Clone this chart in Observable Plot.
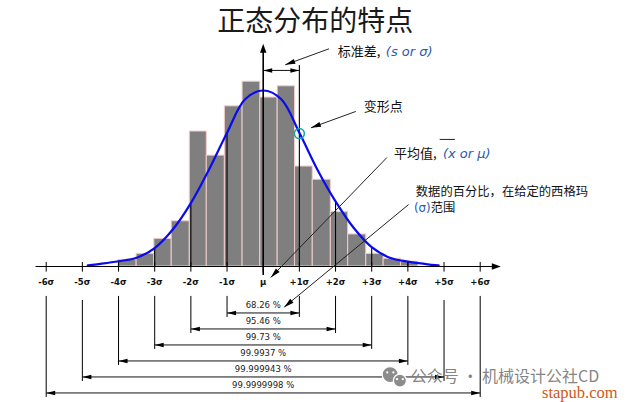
<!DOCTYPE html>
<html><head><meta charset="utf-8">
<script src="https://cdn.jsdelivr.net/npm/d3@7"></script>
<script src="https://cdn.jsdelivr.net/npm/@observablehq/plot@0.6"></script>
<style>body{margin:0;background:#fff}</style>
</head><body><div id="chart"></div>
<script>
// ---------- data ----------
const title = "正态分布的特点";
const sigmaTicks = [-6, -5, -4, -3, -2, -1, 0, 1, 2, 3, 4, 5, 6];
const tickLabels = ["-6σ", "-5σ", "-4σ", "-3σ", "-2σ", "-1σ", "μ", "+1σ", "+2σ", "+3σ", "+4σ", "+5σ", "+6σ"];
// histogram bin edges (in σ units) and bar heights (peak of curve = 100)
const binEdges = [-4.00, -3.50, -3.01, -2.53, -2.03, -1.56, -1.06, -0.57, -0.08, 0.40, 0.88, 1.37, 1.87, 2.35, 2.85, 3.33, 3.81, 4.29];
const binHeights = [3.8, 7.2, 15.7, 25.7, 76.7, 63, 91, 105, 96, 102.4, 56.8, 49.3, 30.9, 18.2, 7.2, 4.4, 2.8];
// normal curve
const curveX = [-4.85, -4.5, -4, -3.5, -3, -2.5, -2, -1.5, -1, -0.5, 0, 0.5, 1, 1.5, 2, 2.5, 3, 3.5, 4, 4.5, 4.85];
const curveY = [0.6, 1.5, 3, 5, 10.5, 21, 36, 55, 76, 95, 100, 95, 76, 55, 37, 22, 11, 5, 2.8, 1.4, 0.6];
// sigma ranges and their percentages
const pctLevels = [1, 2, 3, 4, 5, 6];
const pctLabels = ["68.26 %", "95.46 %", "99.73 %", "99.9937 %", "99.999943 %", "99.9999998 %"];
const innerSigma = [-4, -3, -2, -1, 1, 2, 3, 4];

// ---------- layout ----------
const KX = 434 / 12, KY = 176 / 100;   // px per unit (matches scale ranges below)
const cjk = "'Noto Sans CJK SC', 'Noto Sans', sans-serif";
const lat = "'DejaVu Sans', sans-serif";
const blue = "#2b5aa8";
const bars = binHeights.map((h, i) => ({x1: binEdges[i], x2: binEdges[i + 1], h}));
const curve = curveX.map((x, i) => ({x, y: curveY[i]}));
const curveAt = k => curveY[curveX.indexOf(k)];
const sigBracketV = 111.4;
const sigLines = innerSigma.map(k => ({x: k, top: k === 1 ? 114.2 : curveAt(k)}));
const rowV = k => -26.4 - 9.09 * (k - 1);
const rows = pctLevels.map((k, i) => ({k, v: rowV(k), label: pctLabels[i]}));
const ang = (x1, y1, x2, y2) => Math.atan2((x2 - x1) * KX, (y2 - y1) * KY) * 180 / Math.PI;

// leader lines (x1,y1)->(x2,y2), arrowhead at end
const leaders = [
  {x1: 1.82, y1: 123.7, x2: 0.61, y2: 114.6},
  {x1: 2.56, y1: 88.1, x2: 1.32, y2: 78.8},
  {x1: 3.42, y1: 61.9, x2: 0.21, y2: -6.25},
  {x1: 4.02, y1: 35.2, x2: 0.58, y2: -23.1}
];
// double-headed horizontal brackets
const brackets = [{a: 0, b: 1, v: sigBracketV}, ...rows.map(r => ({a: -r.k, b: r.k, v: r.v}))];
const heads = [
  ...leaders.map(d => ({x: d.x2, y: d.y2, a: ang(d.x1, d.y1, d.x2, d.y2), s: 1})),
  ...brackets.flatMap(d => [{x: d.a, y: d.v, a: -90, s: 0}, {x: d.b, y: d.v, a: 90, s: 0}]),
  {x: 6.57, y: 0, a: 90, s: 2},
  {x: 0, y: 126.5, a: 0, s: 2}
];
const mkHead = (w, l) => ({draw(ctx) { ctx.moveTo(0, 0); ctx.lineTo(-w, l); ctx.lineTo(w, l); ctx.closePath(); }});
const headSyms = [mkHead(2.2, 9), mkHead(2.6, 10), mkHead(3.2, 9)];

const texts = [
  {x: 2.06, y: 122.2, t: "标准差,", c: "#111", f: cjk, st: "normal", fs: 13},
  {x: 3.39, y: 122.2, t: "(s or σ)", c: blue, f: lat, st: "italic", fs: 13},
  {x: 2.78, y: 90.9, t: "变形点", c: "#111", f: cjk, st: "normal", fs: 13},
  {x: 3.62, y: 64.2, t: "平均值,", c: "#111", f: cjk, st: "normal", fs: 13},
  {x: 4.97, y: 64.2, t: "(x or μ)", c: blue, f: lat, st: "italic", fs: 13},
  {x: 4.22, y: 42.3, t: "数据的百分比，在给定的西格玛", c: "#111", f: cjk, st: "normal", fs: 12.3},
  {x: 4.17, y: 33.0, t: "(σ)", c: blue, f: lat, st: "normal", fs: 11.8},
  {x: 4.63, y: 33.0, t: "范围", c: "#111", f: cjk, st: "normal", fs: 12.3}
];

const plot = Plot.plot({
  width: 633, height: 402,
  marginTop: 0, marginRight: 0, marginBottom: 0, marginLeft: 0,
  x: {domain: [-6, 6], range: [45.7, 479.7], axis: null},
  y: {domain: [0, 100], range: [266, 90], axis: null},
  style: {background: "#fff", overflow: "visible"},
  marks: [
    // title
    Plot.text([title], {x: 1.44, y: 139.0, text: d => d, fontSize: 28, fontFamily: cjk, fill: "#1a1a1a", textAnchor: "middle"}),
    // histogram
    Plot.rect(bars, {x1: "x1", x2: "x2", y1: 0, y2: "h", fill: "#7f7f7f", stroke: "#f2cccc", strokeWidth: 1}),
    // sigma lines inside chart
    Plot.ruleX(sigLines, {x: "x", y1: 0, y2: "top", stroke: "#000", strokeWidth: 1.1}),
    // normal curve
    Plot.line(curve, {x: "x", y: "y", curve: "catmull-rom", stroke: "#0a0af0", strokeWidth: 2.2}),
    // inflection point
    Plot.dot([1], {x: d => d, y: 75.5, r: 5, stroke: "#1aa3a3", strokeWidth: 1.5, fill: "none"}),
    // x axis
    Plot.ruleY([0], {x1: -6.28, x2: 6.4, stroke: "#000", strokeWidth: 1.2}),
    Plot.ruleX(sigmaTicks, {x: d => d, y1: -3.2, y2: 2.3, stroke: "#000", strokeWidth: 1}),
    Plot.text(sigmaTicks, {x: d => d, y: -8.8, text: (d, i) => tickLabels[i], fontSize: 8.5, fontWeight: "bold", fontFamily: lat, fill: "#111"}),
    // mean axis (vertical arrow)
    Plot.ruleX([0], {x: d => d, y1: -5.1, y2: 122, stroke: "#000", strokeWidth: 1.6}),
    // leaders
    Plot.link(leaders, {x1: "x1", y1: "y1", x2: "x2", y2: "y2", stroke: "#222", strokeWidth: 1}),
    // brackets
    Plot.link(brackets, {x1: "a", x2: "b", y1: "v", y2: "v", stroke: "#111", strokeWidth: 1}),
    // bracket verticals below axis
    Plot.ruleX(rows.flatMap(r => [-r.k, r.k].map(x => ({x, top: r.k === 5 ? -19.3 : -17.0, bot: r.v - 2.56}))),
      {x: "x", y1: "bot", y2: "top", stroke: "#000", strokeWidth: 1}),
    Plot.text(rows, {x: 0, y: d => d.v + 4.26, text: "label", fontSize: 8.5, fontFamily: lat, fill: "#222"}),
    // arrowheads
    ...headSyms.map((sym, si) => Plot.dot(heads.filter(h => h.s === si), {x: "x", y: "y", rotate: "a", symbol: sym, fill: "#000", stroke: "none"})),
    // annotation texts
    ...texts.map(d => Plot.text([d], {x: "x", y: "y", text: "t", fill: "c", fontFamily: d.f, fontStyle: d.st, fontSize: d.fs, textAnchor: "start"})),
    // overline over x
    Plot.link([{a: 4.88, b: 5.30}], {x1: "a", x2: "b", y1: 72.2, y2: 72.2, stroke: "#222", strokeWidth: 1}),
    // watermark (WeChat-like icon + text)
    Plot.dot([{x: 3.51, y: -61.4}], {x: "x", y: "y", r: 8, fill: "#8c8c8c", stroke: "#fff", strokeWidth: 1.2}),
    Plot.dot([{x: 3.78, y: -64.8}], {x: "x", y: "y", r: 6.5, fill: "#8c8c8c", stroke: "#fff", strokeWidth: 1.2}),
    Plot.dot([{x: 3.43, y: -60.2}, {x: 3.60, y: -60.2}, {x: 3.70, y: -64.0}, {x: 3.86, y: -64.0}], {x: "x", y: "y", r: 1.1, fill: "#fff"}),
    Plot.text(["公众号 · 机械设计公社CD"], {x: 4.08, y: -62.6, text: d => d, fontSize: 16, fontFamily: cjk, fill: "#858585", textAnchor: "start"}),
    Plot.text(["stapub.com"], {x: 7.71, y: -71.8, text: d => d, fontSize: 16.5, fontFamily: "'Liberation Serif', 'DejaVu Serif', serif", fill: "#cc5a1a", textAnchor: "start"})
  ]
});
document.getElementById("chart").append(plot);
</script>
</body></html>
